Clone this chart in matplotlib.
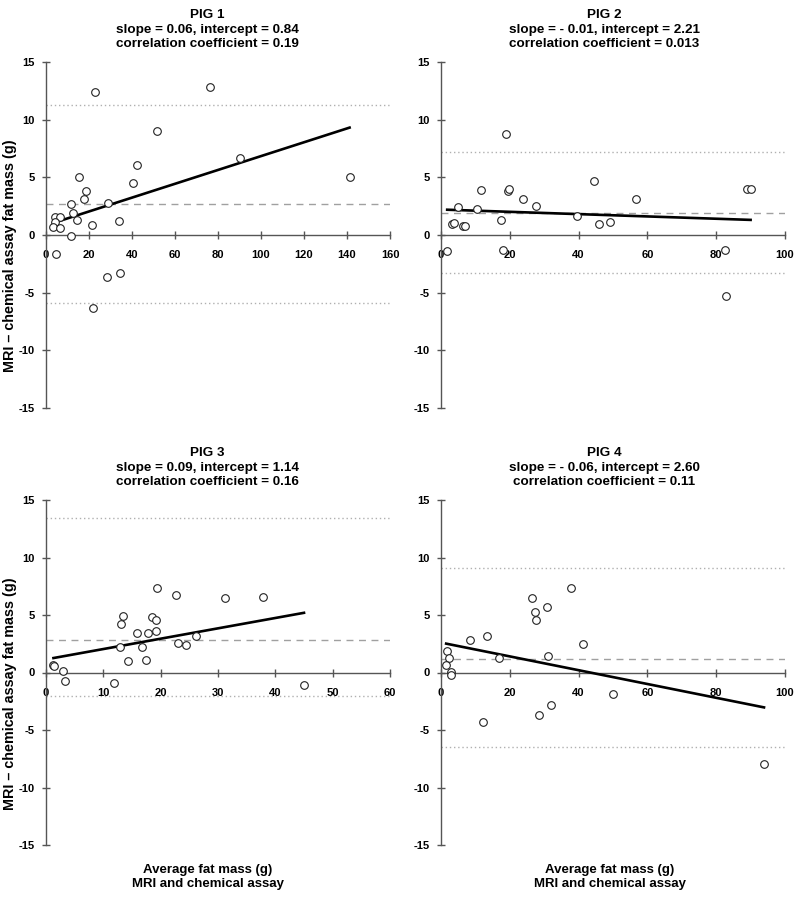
import numpy as np
import matplotlib
matplotlib.use("Agg")
import matplotlib.pyplot as plt

plt.rcParams['font.family'] = ['Liberation Sans', 'DejaVu Sans']
plt.rcParams['font.weight'] = 'bold'
plt.rcParams['axes.unicode_minus'] = False

# ---- data ----
pig1_x = [22.6, 76.5, 51.8, 90.4, 42.2, 15.5, 141.2, 40.5, 18.5, 17.9, 11.7, 29.0, 12.4,
          4.4, 6.6, 14.3, 33.8, 21.3, 4.1, 3.3, 6.5, 11.7, 4.8, 28.4, 34.6, 22.0]
pig1_y = [12.36, 12.83, 9.0, 6.68, 6.03, 5.07, 5.07, 4.49, 3.79, 3.12, 2.65, 2.77, 1.87,
          1.60, 1.60, 1.31, 1.22, 0.90, 1.10, 0.73, 0.61, -0.06, -1.69, -3.62, -3.27, -6.30]

pig2_x = [19.0, 44.6, 11.6, 19.4, 19.7, 89.0, 90.0, 23.8, 56.8, 27.6, 4.9, 10.4,
          39.4, 17.3, 49.0, 45.8, 3.1, 3.9, 6.5, 7.0, 1.8, 17.9, 82.6, 82.9]
pig2_y = [8.78, 4.64, 3.88, 3.79, 3.99, 4.02, 3.97, 3.12, 3.12, 2.54, 2.42, 2.24,
          1.63, 1.31, 1.17, 0.96, 0.93, 1.05, 0.82, 0.82, -1.37, -1.31, -1.28, -5.31]

pig3_x = [19.3, 22.6, 31.3, 37.9, 13.5, 13.1, 18.5, 19.2, 15.9, 17.8, 19.1, 26.2,
          23.0, 24.4, 12.9, 16.7, 14.3, 17.5, 1.3, 1.4, 3.0, 3.3, 11.9, 45.0]
pig3_y = [7.34, 6.71, 6.45, 6.59, 4.91, 4.22, 4.86, 4.57, 3.47, 3.41, 3.64, 3.15,
          2.57, 2.40, 2.25, 2.25, 1.01, 1.10, 0.69, 0.58, 0.12, -0.75, -0.90, -1.13]

pig4_x = [37.7, 26.5, 30.9, 27.3, 27.7, 13.4, 8.3, 41.3, 1.8, 2.4, 16.8, 31.2,
          1.5, 3.0, 3.0, 49.9, 32.1, 28.4, 12.2, 93.9]
pig4_y = [7.38, 6.48, 5.73, 5.24, 4.60, 3.18, 2.84, 2.49, 1.88, 1.27, 1.27, 1.45,
          0.69, 0.06, -0.23, -1.85, -2.84, -3.73, -4.28, -7.93]

slopes = [0.06, -0.01, 0.09, -0.06]
intercepts = [0.84, 2.21, 1.14, 2.60]
means = [2.71, 1.90, 2.80, 1.19]
upper_limits = [11.31, 7.17, 13.44, 9.06]
lower_limits = [-5.89, -3.32, -2.08, -6.48]
x_maxes = [160, 100, 60, 100]
x_steps = [20, 20, 10, 20]

titles = [
    "PIG 1\nslope = 0.06, intercept = 0.84\ncorrelation coefficient = 0.19",
    "PIG 2\nslope = - 0.01, intercept = 2.21\ncorrelation coefficient = 0.013",
    "PIG 3\nslope = 0.09, intercept = 1.14\ncorrelation coefficient = 0.16",
    "PIG 4\nslope = - 0.06, intercept = 2.60\ncorrelation coefficient = 0.11",
]
ylabel = "MRI \u2013 chemical assay fat mass (g)"
xlabel = "Average fat mass (g)\nMRI and chemical assay"

xs = [pig1_x, pig2_x, pig3_x, pig4_x]
ys = [pig1_y, pig2_y, pig3_y, pig4_y]

# axes positions in figure fraction (800x900 px)
positions = [
    [46 / 800, 1 - 408 / 900, 344 / 800, 346 / 900],
    [441 / 800, 1 - 408 / 900, 344 / 800, 346 / 900],
    [46 / 800, 1 - 845 / 900, 344 / 800, 345 / 900],
    [441 / 800, 1 - 845 / 900, 344 / 800, 345 / 900],
]

axis_col = "#555555"

fig = plt.figure(figsize=(8, 9), dpi=100)

for i in range(4):
    ax = fig.add_axes(positions[i])
    x = np.array(xs[i])
    y = np.array(ys[i])

    ax.set_xlim(0, x_maxes[i])
    ax.set_ylim(-15, 15)

    # mean and limits of agreement
    ax.axhline(means[i], color="#a0a0a0", lw=1, ls=(0, (5, 4)), zorder=1)
    ax.axhline(upper_limits[i], color="#b0b0b0", lw=1, ls=(0, (1, 2)), zorder=1)
    ax.axhline(lower_limits[i], color="#b0b0b0", lw=1, ls=(0, (1, 2)), zorder=1)

    # regression line over the data range
    lx = np.array([x.min(), x.max()])
    ax.plot(lx, slopes[i] * lx + intercepts[i], color="black", lw=1.9, zorder=3)

    ax.plot(x, y, "o", mfc="white", mec="#222222", mew=0.8, ms=5.5,
            zorder=4, clip_on=False)

    ax.spines["top"].set_visible(False)
    ax.spines["right"].set_visible(False)
    ax.spines["bottom"].set_position(("data", 0))
    ax.spines["left"].set_position(("data", 0))
    for s in ["bottom", "left"]:
        ax.spines[s].set_color(axis_col)
        ax.spines[s].set_linewidth(1)

    ax.set_xticks(np.arange(0, x_maxes[i] + 1, x_steps[i]))
    ax.set_yticks(np.arange(-15, 16, 5))
    ax.tick_params(axis="x", direction="inout", length=6, width=1, color=axis_col,
                   labelsize=8, pad=8)
    ax.tick_params(axis="y", direction="inout", length=6, width=1, color=axis_col,
                   labelsize=8, pad=5)
    for lab in ax.get_xticklabels() + ax.get_yticklabels():
        lab.set_fontweight("bold")

    ax.text(0.47 if i % 2 == 0 else 0.475, 1.035, titles[i], transform=ax.transAxes,
            ha="center", va="bottom", fontsize=9.7, fontweight="bold", linespacing=1.25)

    if i % 2 == 0:
        ax.text(-0.105, 0.439, ylabel, transform=ax.transAxes, rotation=90,
                ha="center", va="center", fontsize=10.4, fontweight="bold")
    if i >= 2:
        ax.text(0.47 if i == 2 else 0.49, -0.055, xlabel, transform=ax.transAxes,
                ha="center", va="top", fontsize=9.5, fontweight="bold", linespacing=1.25)

fig.savefig("out.png", dpi=100)
